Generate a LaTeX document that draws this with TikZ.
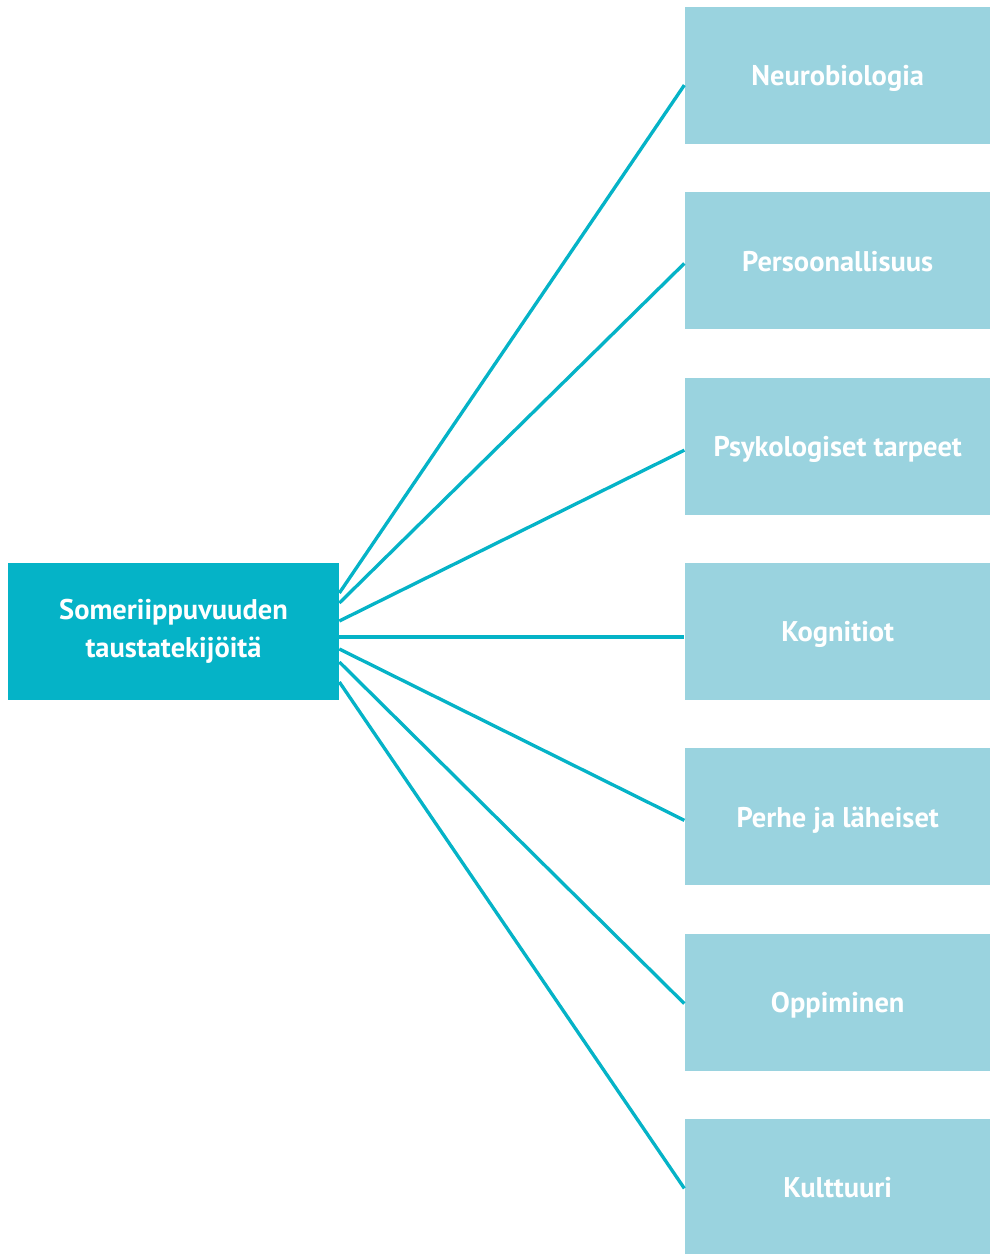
\documentclass[tikz,border=0pt]{standalone}
\usepackage{fontspec}
\setmainfont{PT Sans}
\usetikzlibrary{positioning}

\definecolor{tealdark}{HTML}{05B3C7}
\definecolor{teallight}{HTML}{9AD3DF}

\tikzset{
    mainbox/.style={fill=tealdark, text=white, minimum width=6.62cm, minimum height=2.74cm,
        align=center, font=\bfseries\fontsize{16.2}{21.8}\selectfont},
    factor/.style={fill=teallight, text=white, minimum width=6.12cm, minimum height=2.74cm,
        text depth=0pt, font=\bfseries\fontsize{16.2}{18}\selectfont},
    link/.style={draw=tealdark, line width=1.9pt}
}

\begin{document}
\begin{tikzpicture}[node distance=0.952cm]

    \useasboundingbox (0,0) rectangle (19.8,-25.08);

    \node[mainbox] (main) at (3.47,-12.63) {Someriippuvuuden\\taustatekijöitä};

    \node[factor, right=6.9cm of main] (kog) {Kognitiot};
    \node[factor, above=of kog] (psyk) {Psykologiset tarpeet};
    \node[factor, above=of psyk] (pers) {Persoonallisuus};
    \node[factor, above=of pers] (neuro) {Neurobiologia};
    \node[factor, below=of kog] (perhe) {Perhe ja läheiset};
    \node[factor, below=of perhe] (opp) {Oppiminen};
    \node[factor, below=of opp] (kult) {Kulttuuri};

    \draw[link] ([yshift=0.77cm]main.east) -- ([yshift=-0.19cm]neuro.west);
    \draw[link] ([yshift=0.57cm]main.east) -- ([yshift=-0.05cm]pers.west);
    \draw[link] ([yshift=0.21cm]main.east) -- ([yshift=-0.08cm]psyk.west);
    \draw[link] ([yshift=-0.11cm]main.east) -- ([yshift=-0.11cm]kog.west);
    \draw[link] ([yshift=-0.35cm]main.east) -- ([yshift=-0.07cm]perhe.west);
    \draw[link] ([yshift=-0.61cm]main.east) -- ([yshift=-0.03cm]opp.west);
    \draw[link] ([yshift=-1.01cm]main.east) -- ([yshift=-0.02cm]kult.west);

\end{tikzpicture}
\end{document}
